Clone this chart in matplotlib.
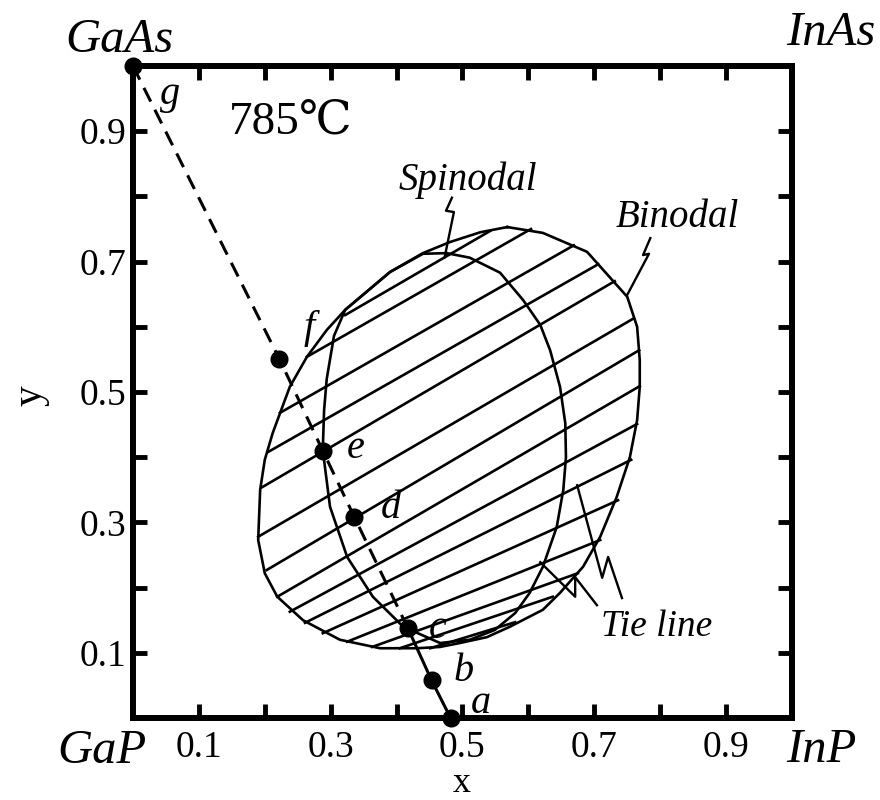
import numpy as np
import matplotlib
matplotlib.use('Agg')
import matplotlib.pyplot as plt

plt.rcParams['font.family'] = ['Liberation Serif', 'DejaVu Serif']

# binodal of the miscibility gap, closed loop (x = InP side, y = GaAs/InAs side)
binodal_x = [0.568, 0.622, 0.689, 0.750, 0.765, 0.769, 0.769, 0.765, 0.754, 0.734,
             0.709, 0.683, 0.648, 0.622, 0.572, 0.537, 0.496, 0.466, 0.431, 0.375,
             0.314, 0.258, 0.219, 0.200, 0.190, 0.193, 0.200, 0.212, 0.238, 0.264,
             0.294, 0.322, 0.349, 0.390, 0.440, 0.481, 0.527, 0.568]
binodal_y = [0.753, 0.744, 0.715, 0.646, 0.600, 0.549, 0.508, 0.457, 0.400, 0.339,
             0.278, 0.232, 0.192, 0.166, 0.140, 0.124, 0.115, 0.109, 0.107, 0.107,
             0.120, 0.150, 0.186, 0.222, 0.273, 0.350, 0.396, 0.437, 0.508, 0.554,
             0.595, 0.626, 0.649, 0.684, 0.713, 0.730, 0.745, 0.753]

# spinodal, closed loop; its upper left arc runs along the binodal
spinodal_x = [0.476, 0.511, 0.557, 0.592, 0.618, 0.633, 0.648, 0.656, 0.657, 0.653,
              0.643, 0.622, 0.602, 0.580, 0.549, 0.511, 0.466, 0.410, 0.364, 0.325,
              0.299, 0.288, 0.290, 0.294, 0.305, 0.322, 0.349, 0.390, 0.440, 0.476]
spinodal_y = [0.713, 0.706, 0.683, 0.641, 0.603, 0.564, 0.508, 0.452, 0.400, 0.350,
              0.293, 0.232, 0.192, 0.161, 0.135, 0.120, 0.115, 0.140, 0.186, 0.247,
              0.324, 0.411, 0.472, 0.520, 0.586, 0.626, 0.649, 0.684, 0.712, 0.713]

# tie lines: left end (x1, y1) -> right end (x2, y2)
tie_x1 = [0.322, 0.264, 0.223, 0.205, 0.196, 0.190, 0.203, 0.219, 0.238, 0.261,
          0.288, 0.325, 0.363, 0.405, 0.451]
tie_y1 = [0.618, 0.554, 0.468, 0.408, 0.354, 0.278, 0.227, 0.186, 0.163, 0.146,
          0.130, 0.117, 0.109, 0.107, 0.107]
tie_x2 = [0.542, 0.604, 0.669, 0.706, 0.731, 0.760, 0.768, 0.769, 0.765, 0.756,
          0.736, 0.709, 0.675, 0.637, 0.580]
tie_y2 = [0.747, 0.750, 0.725, 0.696, 0.670, 0.613, 0.564, 0.509, 0.451, 0.396,
          0.334, 0.273, 0.222, 0.186, 0.147]

# compositions along the GaAs - InP section
pt_names = ['g', 'f', 'e', 'd', 'c', 'b', 'a']
pt_x = [0.0, 0.222, 0.288, 0.336, 0.417, 0.453, 0.482]
pt_y = [1.0, 0.551, 0.410, 0.308, 0.138, 0.058, 0.0]
lbl_x = [0.056, 0.267, 0.338, 0.392, 0.463, 0.501, 0.528]
lbl_y = [0.957, 0.598, 0.414, 0.322, 0.137, 0.071, 0.023]

# zigzag leaders for the curve names
spin_ptr_x = [0.484, 0.475, 0.487, 0.473]
spin_ptr_y = [0.798, 0.778, 0.776, 0.707]
bin_ptr_x = [0.785, 0.774, 0.783, 0.750]
bin_ptr_y = [0.736, 0.710, 0.712, 0.649]
tie_ptr1_x = [0.674, 0.712, 0.721, 0.742]
tie_ptr1_y = [0.357, 0.215, 0.247, 0.184]
tie_ptr2_x = [0.618, 0.671, 0.671, 0.704]
tie_ptr2_y = [0.239, 0.186, 0.216, 0.173]

ticks = [0.1, 0.2, 0.3, 0.4, 0.5, 0.6, 0.7, 0.8, 0.9]
tick_labels = ['0.1', '', '0.3', '', '0.5', '', '0.7', '', '0.9']

fig = plt.figure(figsize=(8.8, 8.0), dpi=100)
ax = fig.add_axes([0.1511, 0.1025, 0.7489, 0.815])

lw = 1.9
ax.plot(binodal_x, binodal_y, color='k', lw=lw)
ax.plot(spinodal_x, spinodal_y, color='k', lw=lw)
for i in range(len(tie_x1)):
    ax.plot([tie_x1[i], tie_x2[i]], [tie_y1[i], tie_y2[i]], color='k', lw=lw)

# section line, dashed down to c and solid below it
ax.plot(pt_x[:5], pt_y[:5], color='k', lw=2.2, dashes=(5, 3), clip_on=False)
ax.plot(pt_x[4:], pt_y[4:], color='k', lw=2.2, clip_on=False)
ax.plot(pt_x, pt_y, 'o', color='k', ms=12, clip_on=False, zorder=5)
for i in range(len(pt_names)):
    ax.text(lbl_x[i], lbl_y[i], pt_names[i], fontsize=29, style='italic',
            ha='center', va='center')

for px, py in [(spin_ptr_x, spin_ptr_y), (bin_ptr_x, bin_ptr_y),
               (tie_ptr1_x, tie_ptr1_y), (tie_ptr2_x, tie_ptr2_y)]:
    ax.plot(px, py, color='k', lw=1.7)

ax.text(0.508, 0.825, 'Spinodal', fontsize=28, style='italic', ha='center', va='center')
ax.text(0.826, 0.767, 'Binodal', fontsize=28, style='italic', ha='center', va='center')
ax.text(0.795, 0.140, 'Tie line', fontsize=27, style='italic', ha='center', va='center')
ax.text(0.240, 0.913, '785℃', fontsize=34, ha='center', va='center')

# corner compounds
ax.text(-0.02, 1.04, 'GaAs', fontsize=35, style='italic', ha='center', va='center', clip_on=False)
ax.text(1.059, 1.05, 'InAs', fontsize=35, style='italic', ha='center', va='center', clip_on=False)
ax.text(-0.047, -0.051, 'GaP', fontsize=35, style='italic', ha='center', va='center', clip_on=False)
ax.text(1.045, -0.049, 'InP', fontsize=35, style='italic', ha='center', va='center', clip_on=False)

ax.set_xlim(0, 1)
ax.set_ylim(0, 1)
ax.set_xticks(ticks)
ax.set_xticklabels(tick_labels)
ax.set_yticks(ticks)
ax.set_yticklabels(tick_labels)
ax.tick_params(direction='in', length=10, width=3.5, top=True, right=True,
               labelsize=27)
ax.tick_params(axis='x', pad=9)
ax.tick_params(axis='y', pad=5)
for s in ax.spines.values():
    s.set_linewidth(4.3)

fig.text(0.525, 0.0, 'x', fontsize=26, ha='center', va='bottom')
fig.text(0.034, 0.506, 'y', fontsize=30, rotation=90, ha='center', va='center')

fig.savefig('out.png', dpi=100)
